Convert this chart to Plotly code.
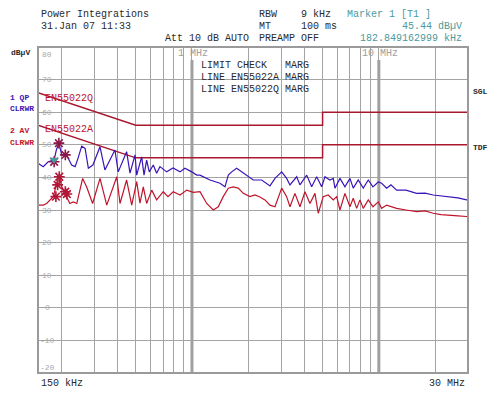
import math
import plotly.graph_objects as go

# ---------------- data ----------------
qp_freq = [0.150, 0.160, 0.170, 0.183, 0.188, 0.194, 0.201, 0.214, 0.227, 0.237, 0.246, 0.257, 0.268, 0.279,
           0.295, 0.322, 0.342, 0.364, 0.387, 0.403, 0.422, 0.447, 0.466, 0.496, 0.506, 0.538, 0.554, 0.572,
           0.591, 0.621, 0.647, 0.674, 0.732, 0.792, 0.863, 0.917, 0.997, 1.060, 1.104, 1.249, 1.412, 1.502,
           1.565, 1.631, 1.734, 1.845, 2.001, 2.128, 2.361, 2.510, 2.615, 2.781, 3.021, 3.211, 3.345, 3.633,
           3.783, 4.111, 4.371, 4.649, 4.944, 5.150, 5.47, 5.703, 5.823, 6.193, 6.586, 7.005, 7.296, 7.758,
           8.254, 8.781, 9.30, 9.93, 10.35, 11.01, 11.61, 12.45, 13.97, 15.93, 17.65, 19.55, 21.5, 24.02,
           26.5, 29.5, 30.0]
qp_level = [44.3, 43.3, 44.8, 45.4, 48.4, 50.5, 46.9, 46.7, 43.8, 43.3, 46.0, 49.6, 48.9, 42.8,
            43.8, 49.4, 42.3, 45.3, 48.4, 41.7, 44.4, 47.9, 41.3, 46.9, 40.7, 46.3, 40.7, 45.3,
            41.7, 43.8, 41.3, 43.3, 41.7, 42.9, 41.7, 42.8, 41.7, 40.7, 40.7, 39.2, 38.2, 37.1,
            40.7, 41.7, 42.8, 41.7, 40.2, 39.2, 39.2, 38.2, 37.4, 39.7, 41.7, 39.7, 37.7, 40.2,
            37.7, 40.7, 37.1, 40.2, 37.1, 40.2, 39.2, 39.7, 36.7, 39.7, 37.1, 39.7, 36.7, 39.2,
            36.7, 39.2, 37.1, 38.6, 38.2, 36.7, 37.7, 36.1, 36.1, 35.1, 35.2, 34.6, 34.3, 34.1,
            33.7, 33.1, 33.1]

av_freq = [0.150, 0.160, 0.167, 0.174, 0.181, 0.189, 0.195, 0.201, 0.209, 0.214, 0.222, 0.232, 0.242, 0.260,
           0.273, 0.294, 0.322, 0.350, 0.369, 0.396, 0.412, 0.447, 0.476, 0.506, 0.527, 0.549, 0.572, 0.609,
           0.647, 0.702, 0.744, 0.794, 0.863, 0.937, 1.017, 1.104, 1.199, 1.300, 1.383, 1.470, 1.565, 1.663,
           1.769, 1.882, 2.043, 2.173, 2.31, 2.458, 2.615, 2.781, 3.021, 3.211, 3.345, 3.558, 3.783, 4.024,
           4.28, 4.551, 4.74, 5.04, 5.36, 5.703, 5.95, 6.193, 6.586, 7.005, 7.296, 7.61, 7.92, 8.254, 8.781,
           9.30, 9.93, 10.35, 11.01, 12.45, 13.97, 15.93, 17.65, 19.55, 21.5, 24.02, 26.5, 29.5, 30.0]
av_level = [31.5, 31.5, 32.0, 33.1, 34.1, 38.2, 40.7, 37.1, 35.1, 34.1, 32.0, 32.5, 32.0, 39.7,
            37.1, 32.0, 39.7, 31.5, 35.5, 40.2, 32.0, 39.2, 31.5, 38.7, 32.1, 37.1, 32.0, 36.1,
            33.1, 35.6, 34.1, 35.6, 34.6, 36.1, 35.4, 35.6, 32.0, 30.0, 31.0, 34.1, 36.7, 37.1,
            36.7, 35.1, 34.1, 34.6, 34.0, 33.1, 31.5, 31.0, 36.7, 34.1, 31.0, 35.1, 31.0, 35.6,
            32.0, 35.1, 29.0, 34.1, 34.6, 33.1, 34.1, 30.0, 35.1, 31.0, 33.6, 30.5, 33.1, 30.5, 33.1,
            31.0, 32.5, 30.5, 31.5, 30.5, 30.0, 29.5, 29.7, 29.0, 28.6, 28.5, 28.2, 28.0, 27.9]

limit_q_freq = [0.15, 0.5, 5.0, 5.0, 30.0]
limit_q_level = [66, 56, 56, 60, 60]
limit_a_freq = [0.15, 0.5, 5.0, 5.0, 30.0]
limit_a_level = [56, 46, 46, 50, 50]

qp_check_freq = [0.194, 0.210, 0.183]
qp_check_level = [50.5, 46.9, 44.8]
av_check_freq = [0.195, 0.191, 0.187, 0.210, 0.214]
av_check_level = [40.2, 37.7, 34.1, 35.6, 34.9]
marker1_freq = [0.1828]
marker1_level = [45.44]

grid_freqs = [0.2, 0.3, 0.4, 0.5, 0.6, 0.7, 0.8, 0.9, 1, 2, 3, 4, 5, 6, 7, 8, 9, 10, 20]
major_freqs = [1, 10]
y_ticks = [80, 70, 60, 50, 40, 30, 20, 10, 0, -10, -20]

# ---------------- style ----------------
FONT = "Liberation Mono"
BLUE = "#3a14b8"
RED = "#c0142c"
LIM = "#a8182e"
GRID = "#a4a4a4"
TEAL = "#4a9a9e"
TXT = "#2a2a2a"
STAR_Q = "#8a1848"
STAR_A = "#b01838"

# page geometry of the plot area (page has an 8px body margin)
PX0, PX1, PY0, PY1 = 38, 468, 47, 373

fig = go.Figure()

for f in major_freqs:
    fig.add_trace(go.Scatter(x=[f, f], y=[-20, 76], mode="lines",
                             line=dict(color="#a0a0a0", width=3), hoverinfo="skip", showlegend=False))

fig.add_trace(go.Scatter(x=limit_q_freq, y=limit_q_level, mode="lines",
                         line=dict(color=LIM, width=1.5), showlegend=False))
fig.add_trace(go.Scatter(x=limit_a_freq, y=limit_a_level, mode="lines",
                         line=dict(color=LIM, width=1.5), showlegend=False))
fig.add_trace(go.Scatter(x=av_freq, y=av_level, mode="lines",
                         line=dict(color=RED, width=1.2), showlegend=False))
fig.add_trace(go.Scatter(x=qp_freq, y=qp_level, mode="lines",
                         line=dict(color=BLUE, width=1.2), showlegend=False))
fig.add_trace(go.Scatter(x=qp_check_freq, y=qp_check_level, mode="markers",
                         marker=dict(symbol="asterisk-open", size=9, color=STAR_Q,
                                     line=dict(color=STAR_Q, width=1.6)), showlegend=False))
fig.add_trace(go.Scatter(x=av_check_freq, y=av_check_level, mode="markers",
                         marker=dict(symbol="asterisk-open", size=9, color=STAR_A,
                                     line=dict(color=STAR_A, width=1.6)), showlegend=False))
fig.add_trace(go.Scatter(x=marker1_freq, y=marker1_level, mode="markers",
                         marker=dict(symbol="triangle-down", size=8, color=TEAL), showlegend=False))

fig.add_shape(type="rect", xref="paper", yref="paper", x0=0, x1=1, y0=0, y1=1,
              line=dict(color="#9a9a9a", width=2))

ann = []
def txt(x, y, s, color=TXT, size=10, anchor="left", bold=False):
    if bold:
        s = "<b>" + s + "</b>"
    ann.append(dict(x=(x - PX0) / (PX1 - PX0), y=(PY1 - y) / (PY1 - PY0),
                    xref="paper", yref="paper", text=s, showarrow=False,
                    xanchor=anchor, yanchor="middle", font=dict(family=FONT, size=size, color=color)))

# header
txt(39, 15, "Power Integrations")
txt(39, 27, "31.Jan 07 11:33")
txt(163, 39, "Att 10 dB AUTO")
txt(257, 15, "RBW    9 kHz")
txt(257, 27, "MT     100 ms")
txt(257, 39, "PREAMP OFF")
txt(345, 15, "Marker 1 [T1 ]", color=TEAL)
txt(464, 27, "45.44 dBµV", color=TEAL, anchor="right")
txt(464, 39, "182.849162999 kHz", color=TEAL, anchor="right")

# left/right side labels
txt(9, 52, "dBµV", size=8, bold=True)
txt(8, 97, "1 QP", color=BLUE, size=8, bold=True)
txt(8, 108, "CLRWR", color=BLUE, size=8, bold=True)
txt(8, 131, "2 AV", color=RED, size=8, bold=True)
txt(8, 142, "CLRWR", color=RED, size=8, bold=True)
txt(471, 91, "SGL", size=8, bold=True)
txt(471, 147, "TDF", size=8, bold=True)

# in-plot texts
txt(199, 65, "LIMIT CHECK   MARG")
txt(199, 77, "LINE EN55022A MARG")
txt(199, 89, "LINE EN55022Q MARG")
txt(43, 99, "EN55022Q", color=RED)
txt(43, 130, "EN55022A", color=RED)
txt(193, 54, "1 MHz", color="#a0a0a0", anchor="center")
txt(380, 54, "10 MHz", color="#a0a0a0", anchor="center")

for v in y_ticks:
    py = PY0 + (80 - v) * 3.26
    if v == 80:
        py = 55
    if v == -20:
        py = 367
    txt(47, py, str(v), color="#a8a8a8", size=8, anchor="center")

txt(39, 383, "150 kHz")
txt(467, 383, "30 MHz", anchor="right")

fig.update_layout(
    width=491, height=386, autosize=False,
    margin=dict(l=PX0 - 8, r=499 - PX1, t=PY0 - 8, b=394 - PY1),
    paper_bgcolor="white", plot_bgcolor="white",
    annotations=ann,
    xaxis=dict(type="log", range=[math.log10(0.15), math.log10(30)], tickvals=grid_freqs,
               showgrid=True, gridcolor=GRID, gridwidth=1, showticklabels=False, ticks="",
               zeroline=False, showline=False, fixedrange=True),
    yaxis=dict(range=[-20, 80], tickvals=y_ticks, showgrid=True, gridcolor=GRID, gridwidth=1,
               showticklabels=False, ticks="", zeroline=False, showline=False, fixedrange=True),
)

fig.write_html("out.html")
